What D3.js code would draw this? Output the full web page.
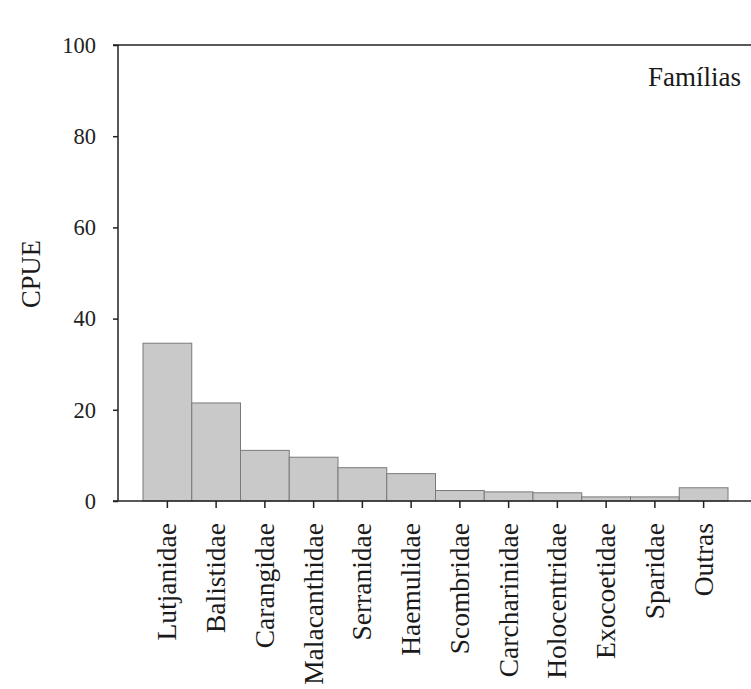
<!DOCTYPE html>
<html>
<head>
<meta charset="utf-8">
<script src="https://cdn.jsdelivr.net/npm/d3@7"></script>
<style>
  html, body { margin: 0; padding: 0; background: #ffffff; }
  svg { display: block; }
</style>
</head>
<body>
<script>
const categories = ["Lutjanidae", "Balistidae", "Carangidae", "Malacanthidae", "Serranidae", "Haemulidae",
  "Scombridae", "Carcharinidae", "Holocentridae", "Exocoetidae", "Sparidae", "Outras"];
const values = [34.6, 21.5, 11.1, 9.6, 7.3, 6.0, 2.3, 2.0, 1.8, 0.9, 0.9, 2.9];
const yTicks = [0, 20, 40, 60, 80, 100];
const yLabel = "CPUE";
const panelLabel = "Famílias";

const FONT = "'Liberation Serif', 'Times New Roman', Times, 'DejaVu Serif', serif";
const W = 751, H = 689;
const svg = d3.select("body").append("svg").attr("width", W).attr("height", H)
  .attr("font-family", FONT);

const x = d3.scaleBand().domain(categories).range([143, 728]).padding(0);
const y = d3.scaleLinear().domain([0, 100]).range([501, 45]);

// bars
svg.append("g").selectAll("rect").data(categories).join("rect")
  .attr("x", d => x(d))
  .attr("y", (d, i) => y(values[i]))
  .attr("width", x.bandwidth())
  .attr("height", (d, i) => y(0) - y(values[i]))
  .attr("fill", "#c9c9c9")
  .attr("stroke", "#7a7a7a")
  .attr("stroke-width", 1);

// y axis
const yAxis = svg.append("g").attr("transform", "translate(118,0)")
  .call(d3.axisLeft(y).tickValues(yTicks).tickSize(5).tickPadding(17).tickFormat(d3.format("d")));
yAxis.attr("font-family", FONT).attr("font-size", null);
yAxis.select(".domain").remove();
yAxis.selectAll(".tick line").attr("stroke", "#222").attr("stroke-width", 1.5);
yAxis.selectAll(".tick text").attr("font-size", 22.5).attr("fill", "#222").attr("font-family", FONT);
svg.append("line").attr("x1", 118).attr("x2", 118).attr("y1", y(100)).attr("y2", y(0))
  .attr("stroke", "#222").attr("stroke-width", 1.5);

// top line
svg.append("line").attr("x1", 113).attr("x2", 751).attr("y1", y(100)).attr("y2", y(100))
  .attr("stroke", "#222").attr("stroke-width", 1.5);

// x axis
const xAxis = svg.append("g").attr("transform", `translate(0,${y(0)})`)
  .call(d3.axisBottom(x).tickSize(7).tickFormat(""));
xAxis.select(".domain").remove();
xAxis.selectAll(".tick line").attr("stroke", "#222").attr("stroke-width", 1.5);
svg.append("line").attr("x1", 113).attr("x2", 751).attr("y1", y(0)).attr("y2", y(0))
  .attr("stroke", "#222").attr("stroke-width", 1.5);

// category labels
svg.append("g").selectAll("text").data(categories).join("text")
  .attr("transform", d => `translate(${x(d) + x.bandwidth() / 2},523) rotate(-90)`)
  .attr("text-anchor", "end")
  .attr("dy", "0.33em")
  .attr("font-size", 27.5)
  .attr("font-family", FONT)
  .attr("fill", "#1a1a1a")
  .text(d => d);

// y label
svg.append("text")
  .attr("transform", "translate(40,274) rotate(-90)")
  .attr("text-anchor", "middle")
  .attr("font-size", 26.5)
  .attr("font-family", FONT)
  .attr("fill", "#1a1a1a")
  .text(yLabel);

// panel label
svg.append("text")
  .attr("x", 741).attr("y", 86)
  .attr("text-anchor", "end")
  .attr("font-size", 27)
  .attr("font-family", FONT)
  .attr("fill", "#1a1a1a")
  .text(panelLabel);
</script>
</body>
</html>
